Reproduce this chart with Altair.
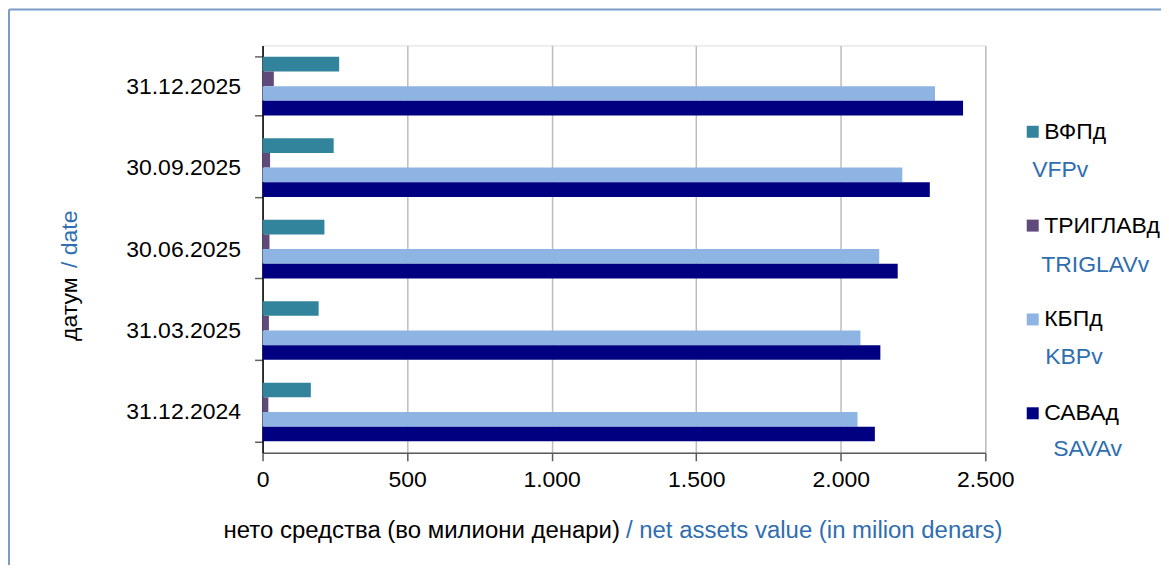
import altair as alt
import pandas as pd

dates = ["31.12.2025", "30.09.2025", "30.06.2025", "31.03.2025", "31.12.2024"]
series = ["ВФПд", "ТРИГЛАВд", "КБПд", "САВАд"]
series_en = ["VFPv", "TRIGLAVv", "KBPv", "SAVAv"]
colors = ["#31849B", "#604A7B", "#8DB4E2", "#000080"]
vfp = [265, 246, 214, 194, 167]
triglav = [39, 26, 24, 22, 20]
kbp = [2326, 2213, 2133, 2068, 2058]
sava = [2423, 2308, 2197, 2137, 2118]
x_ticks = [0, 500, 1000, 1500, 2000, 2500]

FONT = "Liberation Sans"
BLUE = "#2F6EB0"

rows = []
for name, vals in zip(series, [vfp, triglav, kbp, sava]):
    for d, v in zip(dates, vals):
        rows.append({"date": d, "series": name, "value": v})
df = pd.DataFrame(rows)

bars = alt.Chart(df).mark_bar(height={"band": 1}).encode(
    x=alt.X("value:Q",
            scale=alt.Scale(domain=[0, 2500], nice=False, zero=True),
            axis=alt.Axis(values=x_ticks, title=None, grid=True,
                          gridColor="#BDBDBD", gridWidth=1.5,
                          domainColor="#5A5A5A", domainWidth=1.5,
                          tickColor="#5A5A5A", tickSize=8, tickWidth=1.5,
                          labelPadding=8, labelFontSize=23, labelFont=FONT,
                          labelColor="#000000", labelFlush=False,
                          labelExpr="replace(format(datum.value, ','), ',', '.')")),
    y=alt.Y("date:N", sort=dates,
            scale=alt.Scale(paddingInner=0.28, paddingOuter=0.14),
            axis=alt.Axis(title=None, grid=False, domainColor="#000000",
                          domainWidth=1.5, tickColor="#606060", tickSize=8,
                          tickWidth=1.5, tickBand="extent", labelPadding=14,
                          labelFontSize=23, labelFont=FONT, labelColor="#000000")),
    yOffset=alt.YOffset("series:N", sort=series,
                        scale=alt.Scale(paddingInner=0, paddingOuter=0)),
    color=alt.Color("series:N",
                    scale=alt.Scale(domain=series, range=colors),
                    legend=alt.Legend(title=None, orient="none",
                                      legendX=760, legendY=75,
                                      symbolType="square", symbolSize=144,
                                      symbolStrokeWidth=0,
                                      labelFontSize=23, labelFont=FONT,
                                      labelColor="#000000", labelOffset=0,
                                      rowPadding=70, padding=0)),
)

# English legend labels
en_layers = []
en_pos = [(771, 125), (780, 220), (784, 312), (792, 404)]
for txt, (px, py) in zip(series_en, en_pos):
    en_layers.append(
        alt.Chart(pd.DataFrame({"t": [txt]})).mark_text(
            align="left", baseline="middle", fontSize=23, font=FONT, color=BLUE
        ).encode(x=alt.value(px), y=alt.value(py), text="t:N")
    )

# x axis title (two colours)
xt1 = alt.Chart(pd.DataFrame({"t": ["нето средства (во милиони денари)"]})).mark_text(
    align="right", baseline="middle", fontSize=24, font=FONT, color="#000000"
).encode(x=alt.value(358), y=alt.value(486), text="t:N")
xt2 = alt.Chart(pd.DataFrame({"t": ["/ net assets value (in milion denars)"]})).mark_text(
    align="left", baseline="middle", fontSize=24, font=FONT, color=BLUE
).encode(x=alt.value(364), y=alt.value(486), text="t:N")

# y axis title (two colours, rotated)
yt1 = alt.Chart(pd.DataFrame({"t": ["датум"]})).mark_text(
    align="left", baseline="middle", fontSize=23, font=FONT, color="#000000", angle=270
).encode(x=alt.value(-193), y=alt.value(296), text="t:N")
yt2 = alt.Chart(pd.DataFrame({"t": ["/ date"]})).mark_text(
    align="left", baseline="middle", fontSize=23, font=FONT, color=BLUE, angle=270
).encode(x=alt.value(-193), y=alt.value(223), text="t:N")

# outer frame (left and top edges)
frame_df = pd.DataFrame({"a": [0]})
frame_left = alt.Chart(frame_df).mark_rule(color="#7A9CC8", strokeWidth=2).encode(
    x=alt.value(-254), y=alt.value(-36), y2=alt.value(700))
frame_top = alt.Chart(frame_df).mark_rule(color="#7A9CC8", strokeWidth=2).encode(
    x=alt.value(-254), x2=alt.value(1000), y=alt.value(-36))

chart = alt.layer(bars, *en_layers, xt1, xt2, yt1, yt2, frame_left, frame_top).properties(
    width=724, height=408,
    padding={"left": 255, "top": 37, "right": 176, "bottom": 112},
    autosize=alt.AutoSizeParams(type="none"),
).configure_view(stroke="#888888", strokeWidth=1.5).configure(background="#FFFFFF")

chart.save("out.html", embed_options={"renderer": "svg", "actions": False})
